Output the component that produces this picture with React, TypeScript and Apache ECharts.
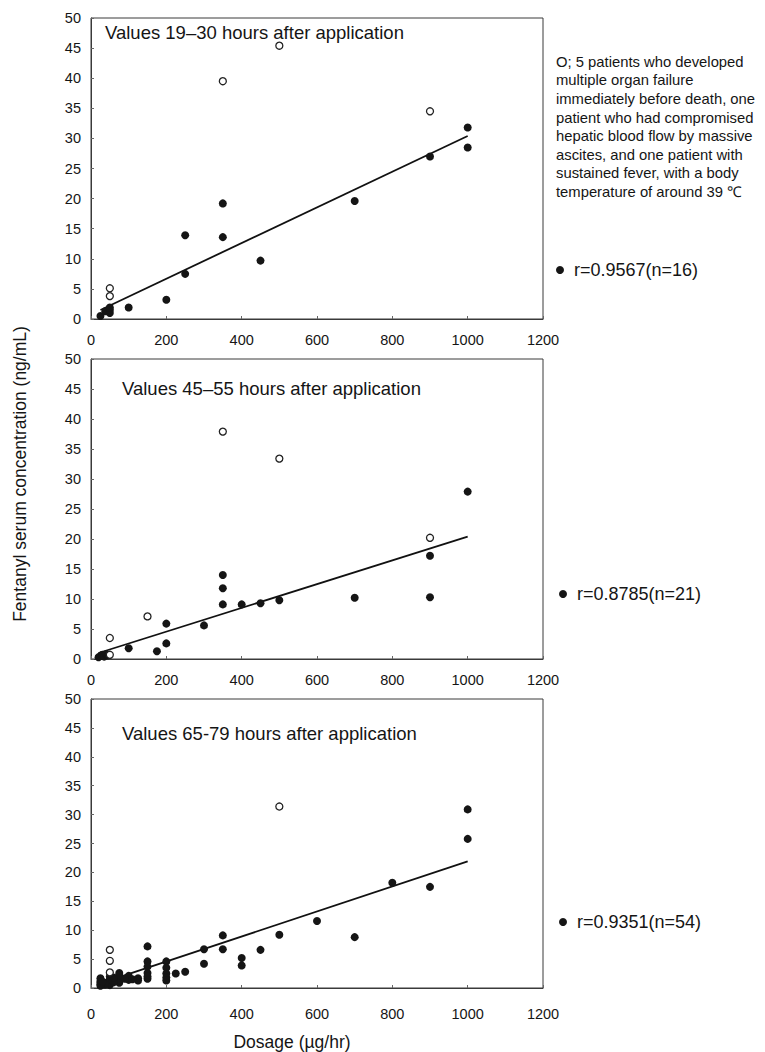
import React, { useEffect, useRef } from "react";
import * as echarts from "echarts";

const FONT = '"Liberation Sans", Arial, sans-serif';

// x tick labels / y tick labels
const xTicks = [0, 200, 400, 600, 800, 1000, 1200];
const yTicks = [0, 5, 10, 15, 20, 25, 30, 35, 40, 45, 50];

// Panel 1: 19–30 h
const p1FilledX = [25, 38, 50, 50, 50, 100, 200, 250, 250, 350, 350, 450, 700, 900, 1000, 1000];
const p1FilledY = [0.5, 1.3, 1.0, 1.5, 1.9, 1.9, 3.2, 7.5, 13.9, 13.6, 19.2, 9.7, 19.6, 27.0, 28.5, 31.8];
const p1OpenX = [500, 350, 900, 50, 50];
const p1OpenY = [45.4, 39.5, 34.5, 5.1, 3.8];
const p1FitX = [25, 1000];
const p1FitY = [1.5, 30.4];

// Panel 2: 45–55 h
const p2FilledX = [20, 25, 30, 35, 40, 45, 100, 175, 200, 200, 300, 350, 350, 350, 400, 450, 500, 700, 900, 900, 1000];
const p2FilledY = [0.3, 0.5, 0.7, 0.4, 0.8, 0.6, 1.8, 1.3, 2.6, 5.9, 5.6, 9.1, 11.8, 14.0, 9.1, 9.3, 9.8, 10.2, 10.3, 17.2, 27.9];
const p2OpenX = [350, 500, 900, 150, 50, 50];
const p2OpenY = [37.9, 33.4, 20.2, 7.1, 3.5, 0.7];
const p2FitX = [20, 1000];
const p2FitY = [1.0, 20.4];

// Panel 3: 65–79 h
const p3FilledX = [1000, 1000, 900, 800, 700, 600, 500, 450, 400, 400, 350, 350, 300, 300, 250, 225, 200, 200, 200, 200, 200, 150, 150, 150, 150, 150, 150, 125, 125, 100, 100, 100, 75, 75, 75, 75, 75, 50, 50, 50, 50, 50, 37, 37, 25, 25, 25, 25, 25, 30, 60, 60, 90, 110];
const p3FilledY = [30.9, 25.8, 17.5, 18.2, 8.8, 11.6, 9.2, 6.6, 5.2, 3.9, 9.1, 6.7, 6.7, 4.2, 2.8, 2.5, 4.6, 3.5, 2.5, 1.8, 1.3, 7.2, 4.6, 3.7, 2.6, 1.6, 2.0, 1.7, 1.3, 1.8, 1.4, 2.1, 2.6, 1.7, 0.9, 1.3, 2.2, 2.0, 1.2, 0.5, 0.8, 1.5, 0.9, 0.6, 1.7, 0.9, 0.4, 1.2, 0.6, 1.1, 1.0, 1.8, 1.6, 1.5];
const p3OpenX = [500, 50, 50, 50];
const p3OpenY = [31.4, 6.6, 4.7, 2.7];
const p3FitX = [25, 1000];
const p3FitY = [0.8, 21.9];

const panelTitles = [
  "Values 19\u201330 hours after application",
  "Values 45\u201355 hours after application",
  "Values 65-79 hours after application",
];
const rLabels = ["r=0.9567(n=16)", "r=0.8785(n=21)", "r=0.9351(n=54)"];
const noteLines = [
  "O; 5 patients who developed",
  "multiple organ failure",
  "immediately before death, one",
  "patient who had compromised",
  "hepatic blood flow by massive",
  "ascites, and one patient with",
  "sustained fever, with a body",
  "temperature of around 39 \u2103",
];
const yTitle = "Fentanyl serum concentration (ng/mL)";
const xTitle = "Dosage (\u00b5g/hr)";

const zip = (xs: number[], ys: number[]) => xs.map((x, i) => [x, ys[i]]);

const panels = [
  { fx: p1FilledX, fy: p1FilledY, ox: p1OpenX, oy: p1OpenY, lx: p1FitX, ly: p1FitY },
  { fx: p2FilledX, fy: p2FilledY, ox: p2OpenX, oy: p2OpenY, lx: p2FitX, ly: p2FitY },
  { fx: p3FilledX, fy: p3FilledY, ox: p3OpenX, oy: p3OpenY, lx: p3FitX, ly: p3FitY },
];

const grids = [
  { left: 91, top: 18, width: 452, height: 301 },
  { left: 91, top: 359, width: 452, height: 300 },
  { left: 91, top: 699, width: 452, height: 289 },
];
const xLabelMargins = [13, 13, 18];
const titlePos = [
  [105, 32],
  [122, 388],
  [122, 733],
];
const rPos = [
  [560, 270],
  [563, 594],
  [563, 922],
];

export default function App() {
  const ref = useRef<HTMLDivElement>(null);
  useEffect(() => {
    if (!ref.current) return;
    const chart = echarts.init(ref.current, null, { renderer: "svg" });
    const axisColor = "#3a3a3a";
    const textColor = "#151515";
    const option: any = {
      animation: false,
      backgroundColor: "#ffffff",
      grid: grids.map((g) => ({ ...g, show: true, borderColor: axisColor, borderWidth: 1, backgroundColor: "#fff" })),
      xAxis: grids.map((_, i) => ({
        gridIndex: i,
        type: "value",
        min: xTicks[0],
        max: xTicks[xTicks.length - 1],
        interval: xTicks[1] - xTicks[0],
        axisLine: { show: true, lineStyle: { color: axisColor, width: 1 } },
        axisTick: { show: true, inside: true, length: 3, lineStyle: { color: "#666" } },
        axisLabel: {
          fontSize: 14.5,
          color: textColor,
          fontFamily: FONT,
          margin: xLabelMargins[i],
          formatter: (v: number) => String(v),
        },
        splitLine: { show: false },
      })),
      yAxis: grids.map((_, i) => ({
        gridIndex: i,
        type: "value",
        min: yTicks[0],
        max: yTicks[yTicks.length - 1],
        interval: yTicks[1] - yTicks[0],
        axisLine: { show: true, lineStyle: { color: axisColor, width: 1 } },
        axisTick: { show: true, inside: true, length: 3, lineStyle: { color: "#666" } },
        axisLabel: {
          fontSize: 14.5,
          color: textColor,
          fontFamily: FONT,
          margin: 10,
          formatter: (v: number) => String(v),
        },
        splitLine: { show: false },
      })),
      series: panels.flatMap((p, i) => [
        {
          type: "line",
          xAxisIndex: i,
          yAxisIndex: i,
          data: zip(p.lx, p.ly),
          symbol: "none",
          lineStyle: { color: "#111", width: 1.8 },
          z: 2,
        },
        {
          type: "scatter",
          xAxisIndex: i,
          yAxisIndex: i,
          data: zip(p.fx, p.fy),
          symbol: "circle",
          symbolSize: 8,
          itemStyle: { color: "#151515", opacity: 1 },
          z: 3,
        },
        {
          type: "scatter",
          xAxisIndex: i,
          yAxisIndex: i,
          data: zip(p.ox, p.oy),
          symbol: "circle",
          symbolSize: 7,
          itemStyle: { color: "#ffffff", borderColor: "#222", borderWidth: 1.3, opacity: 1 },
          z: 4,
        },
      ]),
      graphic: [
        ...panelTitles.map((t, i) => ({
          type: "text",
          x: titlePos[i][0],
          y: titlePos[i][1],
          style: { text: t, font: `18.5px ${FONT}`, fill: textColor, textAlign: "left", textVerticalAlign: "middle" },
        })),
        ...rLabels.flatMap((t, i) => [
          { type: "circle", shape: { cx: rPos[i][0], cy: rPos[i][1], r: 4 }, style: { fill: "#151515" } },
          {
            type: "text",
            x: rPos[i][0] + 14,
            y: rPos[i][1],
            style: { text: t, font: `18px ${FONT}`, fill: textColor, textAlign: "left", textVerticalAlign: "middle" },
          },
        ]),
        ...noteLines.map((t, i) => ({
          type: "text",
          x: 556,
          y: 61.7 + i * 18.6,
          style: { text: t, font: `14.8px ${FONT}`, fill: textColor, textAlign: "left", textVerticalAlign: "middle" },
        })),
        {
          type: "text",
          x: 20,
          y: 474,
          rotation: Math.PI / 2,
          style: { text: yTitle, font: `17.5px ${FONT}`, fill: textColor, textAlign: "center", textVerticalAlign: "middle" },
        },
        {
          type: "text",
          x: 292,
          y: 1042,
          style: { text: xTitle, font: `17.5px ${FONT}`, fill: textColor, textAlign: "center", textVerticalAlign: "middle" },
        },
      ],
    };
    chart.setOption(option);
    return () => chart.dispose();
  }, []);
  return (
    <div
      ref={ref}
      style={{ position: "absolute", left: 0, top: 0, width: 765, height: 1052, background: "#fff" }}
    />
  );
}
